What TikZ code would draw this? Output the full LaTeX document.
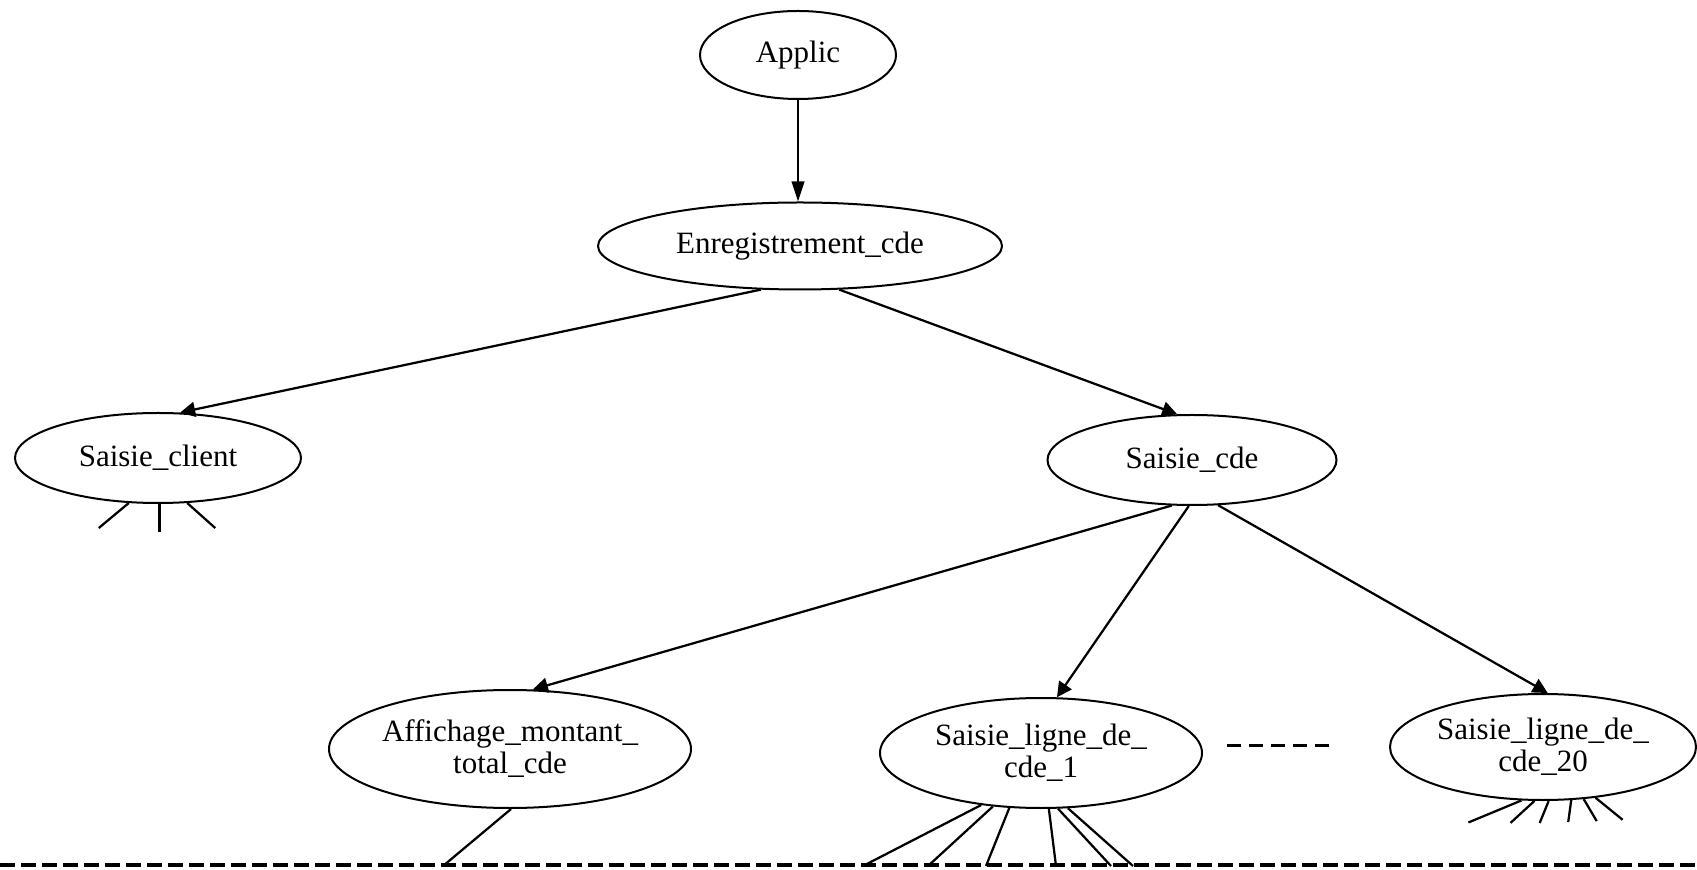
\documentclass[tikz,border=0pt]{standalone}
\usepackage{fontspec}
\setmainfont{Liberation Serif}
\usetikzlibrary{shapes.geometric, arrows.meta}
\begin{document}
\begin{tikzpicture}[x=0.4pt, y=-0.4pt,
  proc/.style={draw, ellipse, line width=0.8pt, inner sep=0pt, align=center,
    font=\fontsize{12.4}{12.8}\selectfont},
  link/.style={line width=0.9pt},
  call/.style={link, -{Triangle[length=6pt, width=6pt]}},
  firstcall/.style={link, -{Triangle[length=8pt, width=5pt]}},
  stub/.style={line width=0.9pt},
  ellipsis/.style={line width=1.2pt, dash pattern=on 5.6pt off 3.2pt},
  cutline/.style={line width=1.5pt, dash pattern=on 6pt off 2.4pt}]
\useasboundingbox (0,0) rectangle (1697,870);

% procedure nodes
\node[proc, minimum width=78.4pt, minimum height=35.2pt] (applic) at (798,55) {Applic};
\node[proc, minimum width=161.6pt, minimum height=34.8pt] (enreg) at (800,246) {Enregistrement\_cde};
\node[proc, minimum width=114.4pt, minimum height=36pt] (sclient) at (158,458) {Saisie\_client};
\node[proc, minimum width=115.6pt, minimum height=36pt] (scde) at (1192,460) {Saisie\_cde};
\node[proc, minimum width=116pt, minimum height=47.2pt] (affich) at (510,749) {Affichage\_montant\_\\total\_cde};
\node[proc, minimum width=128.8pt, minimum height=44pt] (sl1) at (1041,753) {Saisie\_ligne\_de\_\\cde\_1};
\node[proc, minimum width=122.4pt, minimum height=42.4pt] (sl20) at (1543,747) {Saisie\_ligne\_de\_\\cde\_20};

% calls
\draw[firstcall] (applic.south) -- (applic.south |- enreg.north);
\draw[call] (enreg.228.8) -- (sclient.64.7);
\draw[call] (enreg.312.7) -- (scde.108.5);
\draw[call] (scde.246.9) -- (affich.69.9);
\draw[call] (scde.266) -- (sl1.74.7);
\draw[call] (scde.300.4) -- (sl20.85.7);

% further calls, not detailed
\draw[stub] (sclient.237.6) -- ++(-30,25);
\draw[stub] (sclient.272.5) -- ++(0,28);
\draw[stub] (sclient.303.3) -- ++(28,25);

\draw[stub] (sl20.248.2) -- ++(-53,22);
\draw[stub] (sl20.261.4) -- ++(-24,22);
\draw[stub] (sl20.276.5) -- ++(-9,22);
\draw[stub] (sl20.298.3) -- ++(-3,22);
\draw[stub] (sl20.308) -- ++(13,22);
\draw[stub] (sl20.316.2) -- ++(27,22);

% cut line and the calls crossing it
\coordinate (cutL) at (0,865);
\coordinate (cutR) at (1697,865);
\coordinate (a1) at (443,866);
\coordinate (f1) at (863,866);
\coordinate (f2) at (928,866);
\coordinate (f3) at (986,866);
\coordinate (f4) at (1056,866);
\coordinate (f5) at (1111,866);
\coordinate (f6) at (1133,866);
\draw[stub] (affich.271) -- (a1);
\draw[stub] (sl1.221) -- (f1);
\draw[stub] (sl1.228.9) -- (f2);
\draw[stub] (sl1.240.1) -- (f3);
\draw[stub] (sl1.278.3) -- (f4);
\draw[stub] (sl1.287.3) -- (f5);
\draw[stub] (sl1.296.5) -- (f6);
\draw[cutline] (cutL) -- (cutR);

% ellipsis between the order-line entries
\coordinate (dotsL) at (1227,745);
\coordinate (dotsR) at (1332,745);
\draw[ellipsis] (dotsL) -- (dotsR);
\end{tikzpicture}
\end{document}
